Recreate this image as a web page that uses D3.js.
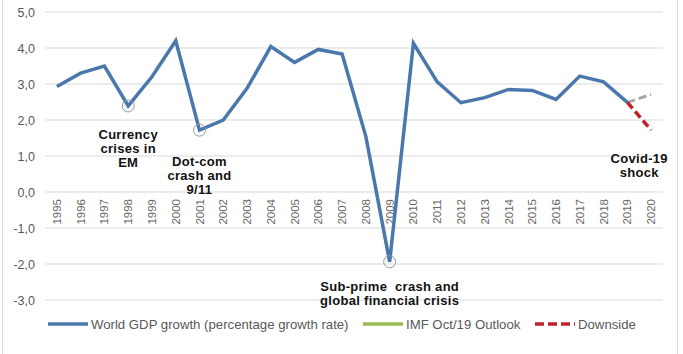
<!DOCTYPE html>
<html><head><meta charset="utf-8">
<script src="https://cdn.jsdelivr.net/npm/d3@7"></script>
<style>body{margin:0;background:#fff}svg{display:block;font-family:"Liberation Sans",Arial,sans-serif}</style>
</head><body><svg id="c" width="683" height="354"></svg>
<script>
const years = ["1995","1996","1997","1998","1999","2000","2001","2002","2003","2004","2005","2006","2007","2008","2009","2010","2011","2012","2013","2014","2015","2016","2017","2018","2019","2020"];
const gdp = [2.93,3.30,3.50,2.39,3.20,4.20,1.72,2.00,2.88,4.04,3.60,3.96,3.83,1.54,-1.94,4.13,3.06,2.48,2.62,2.85,2.82,2.57,3.22,3.06,2.49];
const outlookYears = ["2019","2020"];
const outlook = [2.49,2.71];
const downYears = ["2019","2020"];
const downside = [2.49,1.72];
const yTicks = [-3,-2,-1,0,1,2,3,4,5];
const circled = ["1998","2001","2009"];
const notes = [
  {years:["1998"], value:1.47, lines:["Currency","crises in","EM"]},
  {years:["2001"], value:0.72, lines:["Dot-com","crash and","9/11"]},
  {years:["2009"], value:-2.75, lines:["Sub-prime  crash and","global financial crisis"]},
  {years:["2019","2020"], value:0.8, lines:["Covid-19","shock"]}
];
const legendItems = [
  {label:"World GDP growth (percentage growth rate)", color:"#4a78ad", dash:null},
  {label:"IMF Oct/19 Outlook", color:"#9bbb59", dash:null},
  {label:"Downside", color:"#c0202a", dash:"9,4"}
];

const svg = d3.select("#c");
const x = d3.scaleBand().domain(years).range([45,663]);
const y = d3.scaleLinear().domain([-3,5]).range([300,12]);
const cx = d => x(d) + x.bandwidth()/2;

svg.append("rect").attr("x",2.5).attr("y",-2).attr("width",675).attr("height",360)
  .attr("fill","none").attr("stroke","#d9d9d9");

svg.append("g").selectAll("line").data(yTicks).join("line")
  .attr("x1",45).attr("x2",663).attr("y1",d=>y(d)).attr("y2",d=>y(d))
  .attr("stroke","#d9d9d9").attr("stroke-width",1);

const fmt = d => d.toFixed(1).replace(".",",");
const yAxis = d3.axisLeft(y).tickValues(yTicks).tickFormat(fmt).tickSize(0).tickPadding(10);
const ga = svg.append("g").attr("transform","translate(45,0)").call(yAxis);
ga.select(".domain").remove();
ga.selectAll("text").attr("font-size",12.5).attr("fill","#595959").attr("font-family","Liberation Sans, Arial, sans-serif");

const xAxis = d3.axisBottom(x).tickSize(0).tickPadding(0);
const gx = svg.append("g").attr("transform",`translate(0,${y(0)})`).call(xAxis);
gx.select(".domain").remove();
gx.selectAll("text").attr("font-size",11.5).attr("fill","#666")
  .attr("font-family","Liberation Sans, Arial, sans-serif")
  .attr("transform","rotate(-90)").attr("text-anchor","end")
  .attr("x",-7).attr("y",0).attr("dy","0.35em");

const line = d3.line().x(d=>cx(d[0])).y(d=>y(d[1]));

svg.append("path").attr("d",line(outlookYears.map((d,i)=>[d,outlook[i]])))
  .attr("fill","none").attr("stroke","#a6a6a6").attr("stroke-width",3).attr("stroke-dasharray","8,4");
svg.append("path").attr("d",line(downYears.map((d,i)=>[d,downside[i]])))
  .attr("fill","none").attr("stroke","#c0202a").attr("stroke-width",3.5).attr("stroke-dasharray","8,4");
svg.append("path").attr("d",line(gdp.map((v,i)=>[years[i],v])))
  .attr("fill","none").attr("stroke","#4a78ad").attr("stroke-width",3.5).attr("stroke-linejoin","miter");

svg.append("g").selectAll("circle").data(circled).join("circle")
  .attr("cx",d=>cx(d)).attr("cy",d=>y(gdp[years.indexOf(d)]))
  .attr("r",6).attr("fill","none").attr("stroke","#8c9aa8").attr("stroke-width",1);

notes.forEach(n=>{
  const px = d3.mean(n.years, cx);
  const t = svg.append("text").attr("x",px).attr("y",y(n.value))
    .attr("text-anchor","middle").attr("font-size",13).attr("font-weight","bold")
    .attr("letter-spacing","0.3px").attr("fill","#111").style("white-space","pre");
  n.lines.forEach((l,i)=>t.append("tspan").attr("x",px).attr("dy",i?13.8:0).text(l));
});

const lx = [48,363,535];
legendItems.forEach((it,i)=>{
  svg.append("line").attr("x1",lx[i]).attr("x2",lx[i]+40).attr("y1",324).attr("y2",324)
    .attr("stroke",it.color).attr("stroke-width",3.5).attr("stroke-dasharray",it.dash);
  svg.append("text").attr("x",lx[i]+43).attr("y",328.5).attr("font-size",13.2).attr("fill","#595959").text(it.label);
});
</script></body></html>
